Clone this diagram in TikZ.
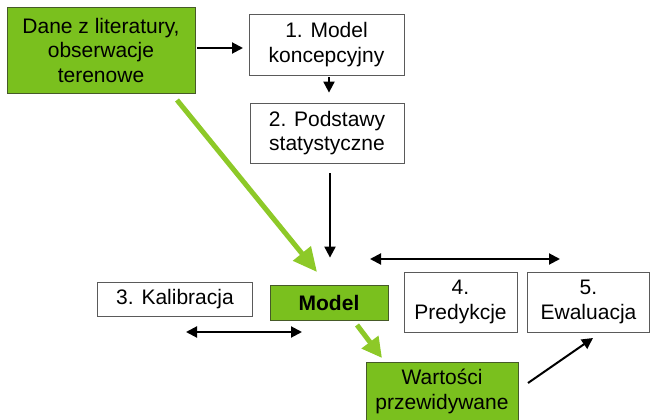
\documentclass[tikz,border=0pt]{standalone}
\usepackage{fontspec}
\setmainfont{Liberation Sans}
\usetikzlibrary{arrows.meta}
\definecolor{gfill}{RGB}{122,192,30}
\definecolor{garrow}{RGB}{141,201,40}
\definecolor{gborder}{RGB}{70,90,40}
\definecolor{wborder}{RGB}{90,90,90}
\tikzset{
  box/.style={draw=wborder, line width=0.8pt, fill=white, align=center, inner sep=0pt,
    font=\fontsize{21}{24.5}\selectfont},
  gbox/.style={box, draw=gborder, fill=gfill},
  arr/.style={line width=2pt, -{Triangle[length=11pt,width=11pt]}},
  darr/.style={line width=2pt, {Triangle[length=11pt,width=11pt]}-{Triangle[length=11pt,width=11pt]}},
  garr/.style={line width=5pt, draw=garrow, -{Triangle[length=24pt,width=22pt]}},
}
\begin{document}
\begin{tikzpicture}[x=1pt,y=-1pt]
\useasboundingbox (0,0) rectangle (651,420);
\node[gbox, minimum width=188pt, minimum height=86pt] (dane) at (101,50) {Dane z literatury,\\obserwacje\\terenowe};
\node[box, minimum width=155pt, minimum height=61pt] (m1) at (326.5,44.5) {1. Model\\koncepcyjny};
\node[box, minimum width=154pt, minimum height=60pt] (m2) at (327,133) {2. Podstawy\\statystyczne};
\node[box, minimum width=155pt, minimum height=34pt] (kal) at (175,299) {3. Kalibracja};
\node[gbox, minimum width=118pt, minimum height=35pt] (model) at (329,302.5) {\textbf{Model}};
\node[box, minimum width=113pt, minimum height=60pt] (pred) at (460.5,302) {4.\\Predykcje};
\node[box, minimum width=122pt, minimum height=60pt] (ewal) at (588.5,302) {5.\\Ewaluacja};
\node[gbox, minimum width=152pt, minimum height=59pt] (wart) at (442,391.5) {Wartości\\przewidywane};
% connectors
\coordinate (a1) at (197,48);
\coordinate (a2) at (243,48);
\draw[arr] (a1) -- (a2);
\draw[arr, shorten <=2pt, shorten >=10pt] (m1.south -| 329,0) -- (m2.north -| 329,0);
\draw[arr, shorten <=10pt, shorten >=27pt] (m2.south -| 330,0) -- (model.north -| 330,0);
\coordinate (g1) at (177,100);
\coordinate (g2) at (317,272);
\draw[garr] (g1) -- (g2);
\coordinate (d1) at (370,259);
\coordinate (d2) at (560,259);
\draw[darr] (d1) -- (d2);
\coordinate (d3) at (186,332);
\coordinate (d4) at (302,332);
\draw[darr] (d3) -- (d4);
\coordinate (g3) at (357,325);
\coordinate (g4) at (382,358);
\draw[garr, -{Triangle[length=20pt,width=20pt]}] (g3) -- (g4);
\coordinate (b1) at (528,383);
\coordinate (b2) at (593,338);
\draw[arr] (b1) -- (b2);
\end{tikzpicture}
\end{document}
